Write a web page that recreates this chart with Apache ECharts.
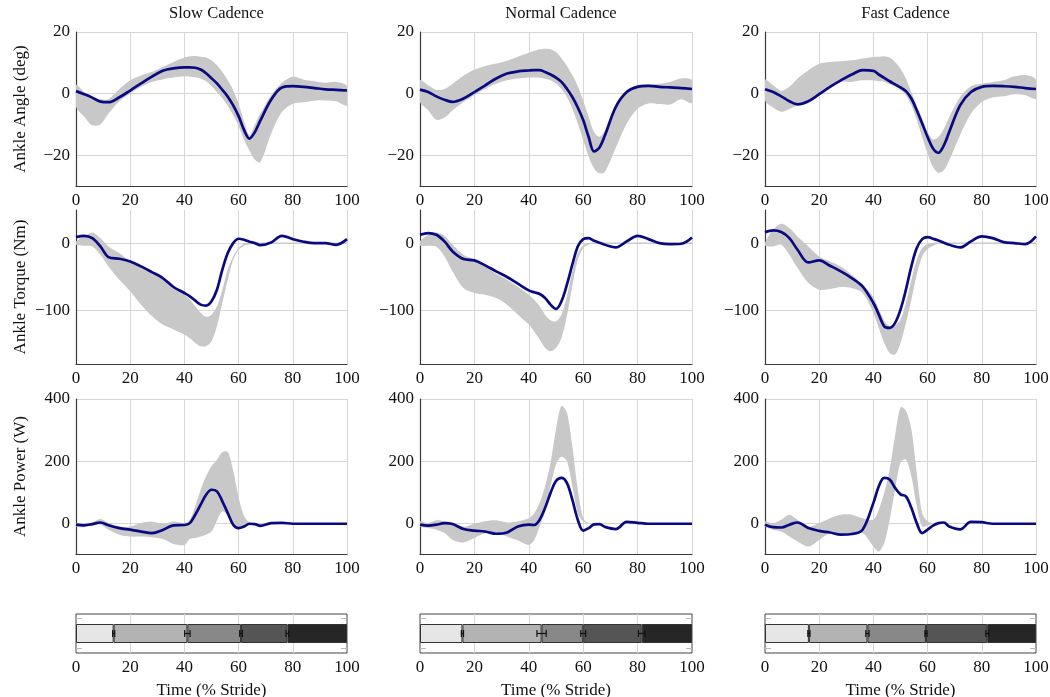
<!DOCTYPE html>
<html>
<head>
<meta charset="utf-8">
<script src="https://cdn.jsdelivr.net/npm/echarts@6/dist/echarts.min.js"></script>
<style>
html,body{margin:0;padding:0;background:#fff;}
#chart{width:1050px;height:697px;}
</style>
</head>
<body>
<div id="chart"></div>
<script>
// % stride sample points shared by all curves
var stride = [0,3,6,9,12,16,20,24,28,32,36,40,42,44,46,48,50,52,54,56,58,60,62,64,66,68,72,76,80,84,88,92,96,100];

var cadences = ['Slow Cadence','Normal Cadence','Fast Cadence'];
var rowNames = ['Ankle Angle (deg)','Ankle Torque (Nm)','Ankle Power (W)'];
var rowTicks = [[-20,0,20],[-100,0],[0,200,400]];

// ankle angle (deg)
var angleSlowMean = [0.8,-0.2,-1.3,-2.6,-2.8,-1.2,1.0,3.3,5.5,7.4,8.2,8.5,8.5,8.4,7.8,6.6,5.0,3.3,1.2,-1.0,-3.8,-7.3,-11.8,-14.6,-12.5,-8.8,-2.0,2.0,2.4,2.2,1.8,1.4,1.2,1.0];
var angleSlowUp   = [2.8,0.5,-1.5,-1.8,-1.8,1.5,4.3,5.9,7.0,8.6,10.3,11.7,12.1,12.2,12.0,11.7,10.8,9.2,7.0,4.3,1.1,-3.3,-9.0,-13.5,-10.0,-6.5,-0.5,3.5,5.5,4.5,4.0,3.5,3.8,2.5];
var angleSlowLo   = [-4.3,-7.5,-10.3,-10.0,-6.5,-2.5,0.0,2.2,3.8,4.6,5.2,5.6,5.5,5.3,4.8,4.0,2.5,0.5,-1.5,-4.0,-7.0,-10.5,-15.0,-18.5,-21.5,-22.3,-13.0,-6.0,-3.3,-2.8,-2.3,-2.2,-2.5,-3.8];
var angleNormalMean = [1.3,0.5,-0.9,-2.0,-2.7,-1.6,0.5,2.7,4.9,6.5,7.2,7.5,7.6,7.6,7.0,6.2,5.2,3.8,1.6,-1.1,-4.5,-8.6,-14.1,-18.8,-17.5,-13.5,-4.3,0.5,2.2,2.5,2.2,2.0,1.8,1.5];
var angleNormalUp   = [4.3,2.7,1.2,1.5,3.2,5.8,7.8,9.0,9.8,10.7,12.0,13.3,13.9,14.4,14.6,14.4,13.5,11.5,9.0,6.0,2.5,-2.2,-7.5,-12.5,-14.0,-12.0,-4.5,0.8,2.8,3.0,3.2,3.8,4.9,4.3];
var angleNormalLo   = [-2.7,-5.4,-8.5,-7.8,-5.4,-2.7,-0.5,1.6,3.2,4.3,4.9,5.2,5.2,5.2,4.8,4.3,3.2,1.6,-1.1,-4.9,-9.7,-15.1,-20.5,-24.3,-25.9,-25.4,-17.5,-9.7,-4.9,-3.2,-3.4,-3.5,-1.8,-3.0];
var angleFastMean = [1.4,0.5,-0.9,-2.5,-3.5,-2.5,-0.2,2.2,4.3,6.2,7.6,7.4,6.2,5.1,4.0,3.0,2.0,0.8,-1.6,-5.4,-9.7,-14.1,-17.8,-19.2,-16.8,-12.4,-3.8,0.5,2.2,2.5,2.4,2.2,1.8,1.5];
var angleFastUp   = [4.5,2.7,0.9,2.2,4.9,7.6,9.7,10.3,10.5,10.8,11.4,11.9,12.0,12.1,11.7,10.3,8.1,4.9,0.5,-3.8,-8.1,-12.4,-14.9,-14.1,-11.4,-7.6,-1.1,2.4,3.2,3.8,4.3,5.6,6.0,4.5];
var angleFastLo   = [-2.2,-4.5,-5.9,-5.0,-3.8,-2.8,-0.5,2.0,3.8,3.8,4.3,4.3,4.0,3.8,3.0,2.2,1.1,-0.5,-3.8,-8.6,-14.1,-19.5,-23.8,-25.7,-24.9,-21.6,-13.5,-6.5,-2.7,-1.3,-0.9,-0.2,-0.5,-1.6];

// ankle torque (Nm)
var torqueSlowMean = [8.9,10.8,7.4,-4.9,-20.7,-23.2,-27.1,-34.5,-42.9,-51.7,-65.0,-73.9,-78.8,-85.2,-91.1,-92.6,-86.2,-69.0,-39.4,-14.8,0.0,6.4,4.9,2.0,0.0,-3.0,1.0,10.8,5.9,2.0,0.0,0.0,-2.5,5.9];
var torqueSlowUp   = [2.5,10.0,15.8,7.4,-4.9,-14.8,-27.1,-34.5,-44.0,-54.0,-65.0,-76.0,-84.0,-93.6,-103.0,-109.0,-106.0,-94.0,-69.0,-39.0,-20.0,-7.4,-1.0,1,1,1,1,1,1,1,1,1,1,1];
var torqueSlowLo   = [-2.5,-3.9,-4.9,-17.2,-34.5,-54.2,-71.4,-91.1,-108.0,-120.7,-128.0,-135.5,-141.0,-147.8,-152.7,-152.7,-145.3,-123.0,-88.7,-54.2,-24.6,-9.9,-3.9,-2.0,-1.5,-1,-1,-1,-1,-1,-1,-1,-1,-1];
var torqueNormalMean = [12.3,14.8,12.3,2.5,-12.3,-23.6,-25.6,-33.0,-41.9,-50.2,-60.1,-70.0,-72.9,-75.4,-81.3,-91.1,-97.5,-86.2,-61.6,-32.0,-4.9,5.9,7.4,3.4,0.5,-2.5,-6.4,2.5,10.8,5.9,0.0,-1.5,-1.0,8.4];
var torqueNormalUp   = [3.0,12.0,15.8,10.8,-2.5,-17.2,-24.6,-34.5,-45.3,-54.2,-65.0,-76.4,-84.0,-93.6,-105.9,-114.3,-115.8,-106.0,-78.8,-41.9,-14.8,-3.4,0.0,1,1,1,1,1,1,1,1,1,1,1];
var torqueNormalLo   = [-3.9,-3.9,-4.9,-19.7,-41.9,-66.5,-73.9,-76.4,-81.3,-91.1,-105.9,-120.7,-131.0,-142.9,-155.2,-160.1,-155.2,-140.4,-108.4,-64.0,-24.6,-7.4,-2.5,-1,-1,-1,-1,-1,-1,-1,-1,-1,-1,-1];
var torqueFastMean = [16.3,18.7,16.3,7.4,-9.9,-28.6,-25.6,-33.5,-41.9,-51.7,-64.0,-88.7,-105.9,-123.2,-125.6,-118.2,-98.5,-69.0,-34.5,-7.4,5.9,8.9,6.5,3.9,0.5,-2.5,-6.4,2.5,9.9,7.4,1.5,0.0,-1.5,9.9];
var torqueFastUp   = [1.0,19.7,28.6,22.2,9.9,-4.9,-19.7,-27.1,-34.5,-46.8,-61.6,-80.0,-98.0,-115.0,-123.0,-122.0,-113.3,-88.7,-54.2,-24.6,-7.4,-1.5,0.5,1,1,1,1,1,1,1,1,1,1,1];
var torqueFastLo   = [-3.9,-4.9,-2.5,-17.2,-36.9,-59.1,-69.0,-68.0,-65.0,-66.5,-73.9,-103.4,-125.6,-147.8,-162.6,-165.0,-147.8,-118.2,-83.7,-46.8,-19.7,-8.9,-3.9,-1,-1,-1,-1,-1,-1,-1,-1,-1,-1,-1];

// ankle power (W)
var powerSlowMean = [-3,-5,-1,4,-5,-14,-19,-25,-30,-20,-5,-4,2,29,61,93,109,104,72,34,-3,-14,-9,0,-1,-7,2,3,0,0,0,0,0,0];
var powerSlowUp   = [2,0,4,15,2,-9,-9,2,7,0,7,2,13,56,109,152,184,205,229,230,170,85,25,4,1,1,1,1,1,1,1,1,1,1];
var powerSlowLo   = [-9,-11,-6,-3,-19,-35,-41,-41,-43,-49,-65,-68,-49,-46,-41,-35,-25,10,40,25,-6,-16,-10,-3,-2,-8,-1,-1,-1,-1,-1,-1,-1,-1];
var powerNormalMean = [-3,-6,-3,2,-1,-17,-22,-25,-32,-28,-9,-3,-4,13,51,99,137,147,131,77,13,-22,-14,-2,-1,-10,-17,6,3,0,0,0,0,0];
var powerNormalUp   = [8,2,11,8,2,-10,0,8,11,4,8,18,34,67,120,196,303,378,357,249,110,18,2,1,1,1,1,1,1,1,1,1,1,1];
var powerNormalLo   = [-9,-14,-19,-30,-52,-60,-46,-30,-30,-41,-54,-68,-52,-9,40,120,190,215,201,120,34,8,0,-1,-1,-1,-1,-1,-1,-1,-1,-1,-1,-1];
var powerFastMean = [-3,-11,-12,-3,4,-14,-23,-28,-35,-33,-19,67,120,147,142,115,94,88,51,2,-30,-19,-6,2,4,-9,-18,6,5,0,0,0,0,0];
var powerFastUp   = [8,2,13,29,13,-10,2,18,29,29,18,13,45,99,174,282,373,362,303,163,34,8,2,1,1,1,1,1,1,1,1,1,1,1];
var powerFastLo   = [-9,-19,-25,-41,-57,-73,-52,-30,-36,-36,-30,-73,-89,-62,13,110,196,206,153,56,-9,-6,0,-1,-1,-1,-1,-1,-1,-1,-1,-1,-1,-1];

// gait phase boundaries (% stride) and their spread
var phaseSlow = [13.9,41.1,60.9,78.0],   phaseSlowErr = [0.4,1.0,0.5,0.5];
var phaseNormal = [15.6,44.7,60.0,81.5], phaseNormalErr = [0.4,1.7,0.9,1.2];
var phaseFast = [16.2,37.8,59.4,82.0],   phaseFastErr = [0.4,0.6,0.4,0.5];
var stubTicks = [0.12,0.88];

var meanRows = [[angleSlowMean,angleNormalMean,angleFastMean],[torqueSlowMean,torqueNormalMean,torqueFastMean],[powerSlowMean,powerNormalMean,powerFastMean]];
var upRows   = [[angleSlowUp,angleNormalUp,angleFastUp],[torqueSlowUp,torqueNormalUp,torqueFastUp],[powerSlowUp,powerNormalUp,powerFastUp]];
var loRows   = [[angleSlowLo,angleNormalLo,angleFastLo],[torqueSlowLo,torqueNormalLo,torqueFastLo],[powerSlowLo,powerNormalLo,powerFastLo]];
var phases = [phaseSlow,phaseNormal,phaseFast];
var phaseErrs = [phaseSlowErr,phaseNormalErr,phaseFastErr];

// layout
var colLeft = [76,420,765], colWidth = [271,272,271];
var rowTop = [32,210,399,614], rowHeight = [154,154,155,39];
var rowMin = [-30,-179,-97], rowMax = [20,49,400];
var phaseColors = ['#e6e6e6','#b3b3b3','#888888','#555555','#262626'];
var serif = "'Liberation Serif','Times New Roman',serif";
var gridColor = '#d6d6d6';
var lineColor = '#0a0a80';
var bandColor = '#c8c8c8';

function minus(v){
	return String(v).replace('-', '\u2212');
}
function pairs(arr){
	return stride.map(function(x,i){ return [x, arr[i]]; });
}
// one polygon for the whole min/max band, drawn on the first item
function renderBand(params, api){
	if (params.dataIndexInside !== 0) return;
	var n = params.dataInsideLength || stride.length;
	var top = [], bot = [];
	for (var i = 0; i < n; i++) {
		var x = api.value(0, i);
		top.push(api.coord([x, api.value(2, i)]));
		bot.push(api.coord([x, api.value(1, i)]));
	}
	return {
		type:'polygon',
		shape:{points: top.concat(bot.reverse()), smooth:0.3},
		style:{fill:bandColor}
	};
}
function renderErr(params, api){
	var c = api.value(0), e = api.value(1);
	var p0 = api.coord([c - e, 0]);
	var p1 = api.coord([c + e, 0]);
	var h = 3.5;
	var st = {stroke:'#111', lineWidth:1.2};
	return {type:'group', children:[
		{type:'line', shape:{x1:p0[0], y1:p0[1], x2:p1[0], y2:p1[1]}, style:st},
		{type:'line', shape:{x1:p0[0], y1:p0[1]-h, x2:p0[0], y2:p0[1]+h}, style:st},
		{type:'line', shape:{x1:p1[0], y1:p1[1]-h, x2:p1[0], y2:p1[1]+h}, style:st}
	]};
}

var chart = echarts.init(document.getElementById('chart'));
var grid = [], xAxis = [], yAxis = [], series = [], title = [];
var nameStyle = {fontFamily:serif, fontSize:17, color:'#111'};
var tickFont = 17;

for (var c = 0; c < 3; c++) {
	title.push({
		text: cadences[c], left: colLeft[c] + colWidth[c] / 2, top: 0, textAlign: 'center',
		textStyle: {fontFamily:serif, fontSize:16.5, fontWeight:'normal', color:'#111'}
	});
	for (var r = 0; r < 3; r++) {
		var g = grid.length;
		grid.push({left:colLeft[c], top:rowTop[r], width:colWidth[c], height:rowHeight[r], outerBoundsMode:'none'});
		xAxis.push({
			type:'value', gridIndex:g, min:0, max:100, interval:20,
			axisLine:{onZero:false, lineStyle:{color:'#3a3a3a', width:1.2}},
			axisTick:{show:false},
			axisLabel:{fontFamily:serif, fontSize:tickFont, color:'#111', margin:6},
			splitLine:{lineStyle:{color:gridColor}}
		});
		var yi = yAxis.length;
		yAxis.push({
			type:'value', gridIndex:g, min:rowMin[r], max:rowMax[r],
			name: c == 0 ? rowNames[r] : '', nameLocation:'middle', nameGap:47,
			nameTextStyle:nameStyle,
			axisLine:{show:true, onZero:false, lineStyle:{color:'#3a3a3a', width:1.2}},
			axisTick:{show:false, customValues:rowTicks[r]},
			axisLabel:{customValues:rowTicks[r], formatter:minus, fontFamily:serif, fontSize:tickFont, color:'#111', margin:6},
			splitLine:{lineStyle:{color:gridColor}}
		});
		var up = upRows[r][c], lo = loRows[r][c];
		series.push({
			type:'custom', xAxisIndex:g, yAxisIndex:yi,
			data: stride.map(function(x,i){ return [x, lo[i], up[i]]; }),
			encode:{x:0, y:[1,2]}, renderItem:renderBand, clip:true, silent:true, z:1
		});
		series.push({
			type:'line', xAxisIndex:g, yAxisIndex:yi, data:pairs(meanRows[r][c]),
			symbol:'none', smooth:0.35, lineStyle:{color:lineColor, width:2.7}, silent:true, z:3
		});
	}

	// gait phase strip
	var g = grid.length;
	grid.push({left:colLeft[c], top:rowTop[3], width:colWidth[c], height:rowHeight[3], show:true, borderColor:'#444', borderWidth:1, outerBoundsMode:'none'});
	xAxis.push({
		type:'value', gridIndex:g, min:0, max:100, interval:20,
		name:'Time (% Stride)', nameLocation:'middle', nameGap:29, nameTextStyle:nameStyle,
		axisLine:{show:false}, axisTick:{show:false},
		axisLabel:{fontFamily:serif, fontSize:tickFont, color:'#111', margin:6},
		splitLine:{showMinLine:false, showMaxLine:false, lineStyle:{color:gridColor}}
	});
	var yCat = yAxis.length;
	yAxis.push({type:'category', gridIndex:g, data:['phase'], show:false});
	['left','right'].forEach(function(pos){
		yAxis.push({
			type:'value', gridIndex:g, min:0, max:1, position:pos,
			axisLine:{show:false}, axisLabel:{show:false}, splitLine:{show:false},
			axisTick:{show:true, inside:true, length:6, customValues:stubTicks, lineStyle:{color:'#bbbbbb'}}
		});
	});
	var b = phases[c];
	var segs = [b[0], b[1]-b[0], b[2]-b[1], b[3]-b[2], 100-b[3]];
	for (var k = 0; k < segs.length; k++) {
		series.push({
			type:'bar', xAxisIndex:g, yAxisIndex:yCat, stack:'phase'+c, data:[segs[k]], barWidth:19,
			itemStyle:{color:phaseColors[k], borderColor:'#333', borderWidth:1}, silent:true, z:2
		});
	}
	var errs = phaseErrs[c];
	series.push({
		type:'custom', xAxisIndex:g, yAxisIndex:yCat,
		data: b.map(function(v,i){ return [v, errs[i], 0]; }),
		encode:{x:0, y:2}, renderItem:renderErr, silent:true, z:5
	});
}

chart.setOption({
	backgroundColor:'#fff',
	animation:false,
	title:title,
	grid:grid,
	xAxis:xAxis,
	yAxis:yAxis,
	series:series
});
</script>
</body>
</html>
